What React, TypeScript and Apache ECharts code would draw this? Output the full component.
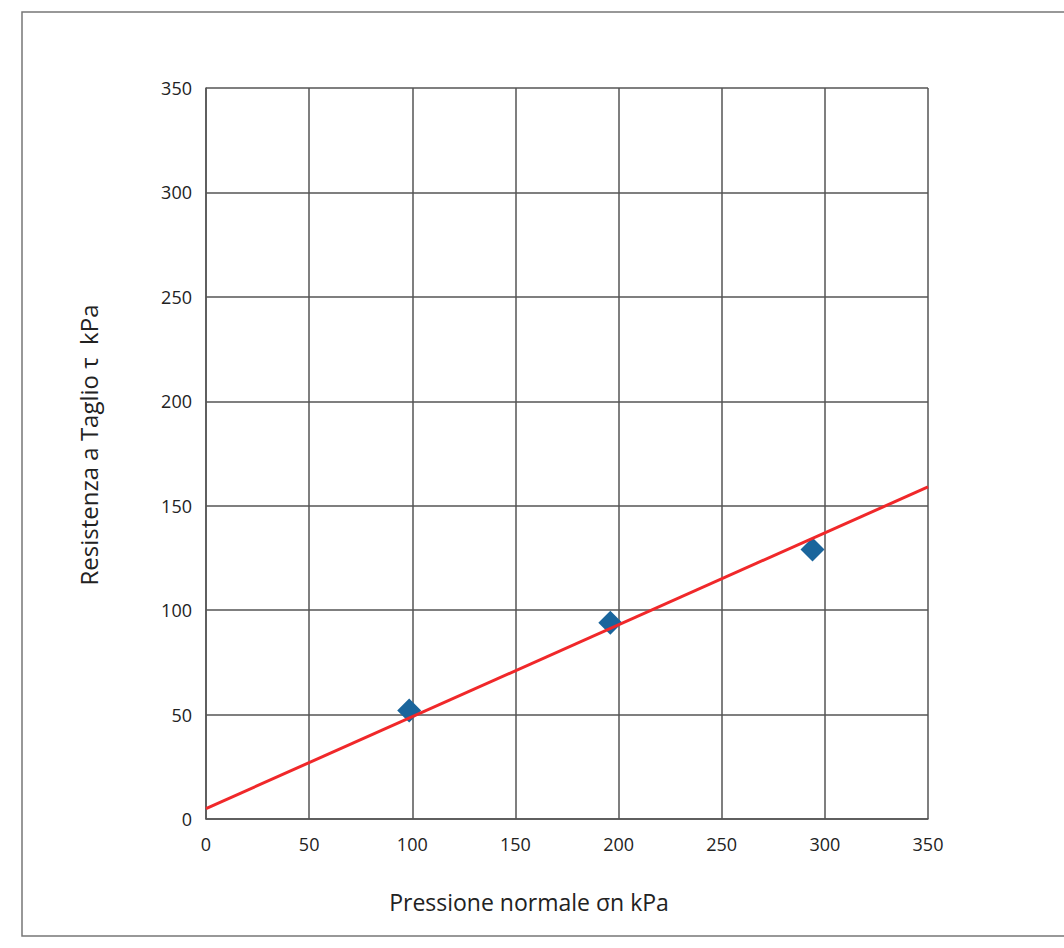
import React, { useEffect, useRef } from "react";
import * as echarts from "echarts";

const pointsX = [98.5, 196, 294];
const pointsY = [52, 94, 129];
const lineX = [0, 350];
const lineY = [5, 159];
const xTicks = [0, 50, 100, 150, 200, 250, 300, 350];
const yTicks = [0, 50, 100, 150, 200, 250, 300, 350];
const xTitle = "Pressione normale σn kPa";
const yTitle = "Resistenza a Taglio τ  kPa";

const FONT = "'Open Sans', 'Noto Sans', sans-serif";

export default function App() {
  const ref = useRef<HTMLDivElement>(null);
  useEffect(() => {
    const chart = echarts.init(ref.current!, null, { renderer: "svg" });
    const gridColor = "#555";
    chart.setOption({
      animation: false,
      backgroundColor: "#fff",
      graphic: [
        {
          type: "rect",
          shape: { x: 22, y: 12, width: 1060, height: 924 },
          style: { fill: "none", stroke: "#777", lineWidth: 1.5 },
          z: -1,
        },
        {
          type: "text",
          x: 529,
          y: 902,
          style: {
            text: xTitle,
            font: `23px ${FONT}`,
            fill: "#222",
            align: "center",
            verticalAlign: "middle",
          },
        },
        {
          type: "text",
          x: 88,
          y: 445,
          rotation: Math.PI / 2,
          style: {
            text: yTitle,
            font: `24px ${FONT}`,
            fill: "#222",
            align: "center",
            verticalAlign: "middle",
          },
        },
      ],
      grid: { left: 206, top: 88, width: 722, height: 731, show: false },
      xAxis: {
        type: "value",
        min: 0,
        max: 350,
        interval: 50,
        axisLine: { show: true, lineStyle: { color: gridColor, width: 1.5 } },
        axisTick: { show: false },
        axisLabel: {
          fontFamily: FONT,
          fontSize: 18,
          color: "#222",
          margin: 16,
          formatter: (v: number) => (xTicks.includes(v) ? String(v) : ""),
        },
        splitLine: { show: true, lineStyle: { color: gridColor, width: 1.5 } },
      },
      yAxis: {
        type: "value",
        min: 0,
        max: 350,
        interval: 50,
        axisLine: { show: true, lineStyle: { color: gridColor, width: 1.5 } },
        axisTick: { show: false },
        axisLabel: {
          fontFamily: FONT,
          fontSize: 18,
          color: "#222",
          margin: 14,
          formatter: (v: number) => (yTicks.includes(v) ? String(v) : ""),
        },
        splitLine: { show: true, lineStyle: { color: gridColor, width: 1.5 } },
      },
      series: [
        {
          type: "line",
          data: lineX.map((x, i) => [x, lineY[i]]),
          showSymbol: false,
          lineStyle: { color: "#f0282a", width: 3 },
          z: 3,
        },
        {
          type: "scatter",
          data: pointsX.map((x, i) => [x, pointsY[i]]),
          symbol: "diamond",
          symbolSize: [24, 24],
          itemStyle: { color: "#1a659c", opacity: 1 },
          z: 2,
        },
      ],
    });
    return () => chart.dispose();
  }, []);
  return (
    <div
      ref={ref}
      style={{ position: "fixed", left: 0, top: 0, width: 1064, height: 948 }}
    />
  );
}
